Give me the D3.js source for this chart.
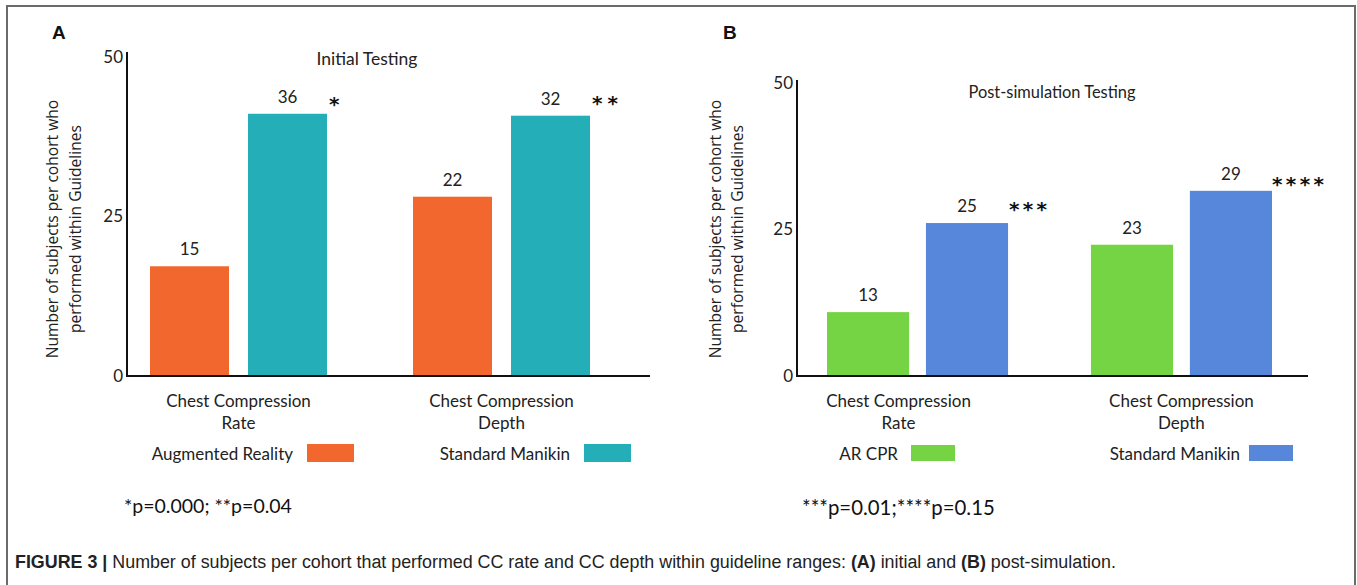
<!DOCTYPE html>
<html><head><meta charset="utf-8">
<script src="https://cdn.jsdelivr.net/npm/d3@7"></script>
<style>
body{margin:0;background:#fff;}
svg{display:block;}
</style></head>
<body>
<svg id="chart" width="1357" height="585"></svg>
<script>
// ---------------- DATA ----------------
const categories = [["Chest Compression", "Rate"], ["Chest Compression", "Depth"]];
const yTicks = [0, 25, 50];

// Panel A – Initial testing
const seriesA = ["Augmented Reality", "Standard Manikin"];
const countsA_AR = [15, 22];          // printed labels
const countsA_SM = [36, 32];
const barsA_AR = [17.2, 28.1];        // bar heights
const barsA_SM = [41.1, 40.8];
const sigA = ["*", "**"];
const titleA = "Initial Testing";
const pTextA = "*p=0.000; **p=0.04";

// Panel B – Post-simulation testing
const seriesB = ["AR CPR", "Standard Manikin"];
const countsB_AR = [13, 23];
const countsB_SM = [25, 29];
const barsB_AR = [10.9, 22.4];
const barsB_SM = [26.1, 31.6];
const sigB = ["***", "****"];
const titleB = "Post-simulation Testing";
const pTextB = "***p=0.01;****p=0.15";

const yLabel = ["Number of subjects per cohort who", "performed within Guidelines"];
const captionBold = "FIGURE 3 | ";
const captionText = "Number of subjects per cohort that performed CC rate and CC depth within guideline ranges: ";

// ---------------- DRAW ----------------
const svg = d3.select("#chart");
const LABEL_FONT = "Lato, 'Open Sans', sans-serif";

// figure frame
svg.append("path")
  .attr("d", "M7,600 L7,6 L1355,6 L1355,600")
  .attr("fill", "none").attr("stroke", "#6b6b6b").attr("stroke-width", 2);

function fitWidth(sel, w) {
  const n = sel.node();
  const cur = n.getComputedTextLength();
  const fs = parseFloat(sel.attr("font-size"));
  sel.attr("font-size", (fs * w / cur).toFixed(2));
}

function panel(cfg) {
  const g = svg.append("g");
  const y = d3.scaleLinear().domain([0, 50]).range([376, cfg.y50]);
  const x0 = d3.scaleBand().domain(d3.range(categories.length))
    .range(cfg.groupRange).paddingInner(cfg.padOuter).paddingOuter(0);
  const x1 = d3.scaleBand().domain(d3.range(2))
    .range([0, x0.bandwidth()]).paddingInner(cfg.padInner).paddingOuter(0);

  // panel letter
  g.append("text").attr("x", cfg.letterX).attr("y", 39)
    .attr("font-family", "'Liberation Sans', Arial, sans-serif").attr("font-weight", "bold")
    .attr("font-size", 19).attr("fill", "#111").text(cfg.letter);

  // title
  g.append("text").attr("x", cfg.titleX).attr("y", cfg.titleY)
    .attr("text-anchor", "middle").attr("dominant-baseline", "central")
    .attr("font-family", LABEL_FONT).attr("font-size", 17).attr("fill", "#222")
    .text(cfg.title).call(s => fitWidth(s, cfg.titleW));

  // y axis label
  const yl = g.append("g");
  yLabel.forEach((t, i) => {
    yl.append("text")
      .attr("transform", `translate(${cfg.yLabelX[i]},229) rotate(-90)`)
      .attr("text-anchor", "middle").attr("dominant-baseline", "central")
      .attr("font-family", "'Open Sans', sans-serif").attr("font-size", 15.6)
      .attr("fill", "#222").text(t);
  });

  // bars
  const seriesVals = [cfg.bars0, cfg.bars1];
  const seriesCounts = [cfg.counts0, cfg.counts1];
  const colors = cfg.colors;
  categories.forEach((c, ci) => {
    [0, 1].forEach(si => {
      const v = seriesVals[si][ci];
      const bx = x0(ci) + x1(si);
      g.append("rect").attr("x", bx).attr("y", y(v))
        .attr("width", x1.bandwidth()).attr("height", y(0) - y(v))
        .attr("fill", colors[si]);
      g.append("text").attr("x", bx + x1.bandwidth() / 2).attr("y", y(v) - 11)
        .attr("text-anchor", "middle").attr("font-family", LABEL_FONT)
        .attr("font-size", 17).attr("fill", "#222").text(seriesCounts[si][ci]);
    });
    // significance stars
    const v1 = seriesVals[1][ci];
    const endX = x0(ci) + x1(1) + x1.bandwidth();
    const st = g.append("text").attr("x", endX + cfg.starDX[ci]).attr("y", y(v1) + cfg.starDY[ci])
      .attr("font-family", "'DejaVu Sans', sans-serif").attr("font-weight", "bold")
      .attr("font-size", 20).attr("fill", "#111").text(cfg.sig[ci]);
    st.attr("textLength", cfg.starW[ci]).attr("lengthAdjust", "spacing");

    // category labels
    categories[ci].forEach((line, li) => {
      g.append("text").attr("x", x0(ci) + x0.bandwidth() / 2 + cfg.catDX[ci])
        .attr("y", 400 + li * 22).attr("text-anchor", "middle")
        .attr("dominant-baseline", "central")
        .attr("font-family", LABEL_FONT).attr("font-size", 17).attr("fill", "#222")
        .text(line);
    });
  });

  // y axis (ticks only as labels)
  const ax = g.append("g").attr("transform", `translate(${cfg.axisX},0)`)
    .call(d3.axisLeft(y).tickValues(yTicks).tickSize(0).tickPadding(4));
  ax.select(".domain").remove();
  ax.selectAll("text").attr("font-family", LABEL_FONT).attr("font-size", 17).attr("fill", "#222");

  g.append("line").attr("x1", cfg.axisX).attr("x2", cfg.axisX)
    .attr("y1", cfg.axisTop).attr("y2", y(0) + 1).attr("stroke", "#111").attr("stroke-width", 2);
  g.append("line").attr("x1", cfg.axisX - 1).attr("x2", cfg.axisRight)
    .attr("y1", y(0)).attr("y2", y(0)).attr("stroke", "#111").attr("stroke-width", 2);

  // legend
  cfg.series.forEach((s, i) => {
    g.append("text").attr("x", cfg.legTextEnd[i]).attr("y", 453)
      .attr("text-anchor", "end").attr("dominant-baseline", "central")
      .attr("font-family", LABEL_FONT).attr("font-size", 17).attr("fill", "#222").text(s);
    g.append("rect").attr("x", cfg.legSwX[i]).attr("y", cfg.legSwY)
      .attr("width", cfg.legSwW).attr("height", cfg.legSwH).attr("fill", colors[i]);
  });

  // p-values
  g.append("text").attr("x", cfg.pX).attr("y", cfg.pY)
    .attr("dominant-baseline", "central")
    .attr("font-family", LABEL_FONT).attr("font-size", 19).attr("fill", "#111")
    .text(cfg.pText).call(s => fitWidth(s, cfg.pW));
}

panel({
  letter: "A", letterX: 52, title: titleA, titleX: 367, titleY: 58, titleW: 101,
  y50: 57, axisX: 127, axisTop: 52, axisRight: 650,
  groupRange: [150, 590], padOuter: 0.327, padInner: 0.194,
  bars0: barsA_AR, bars1: barsA_SM, counts0: countsA_AR, counts1: countsA_SM,
  colors: ["#F2672E", "#24AEB7"], sig: sigA, starDX: [2, 2], starDY: [-3, -6], starW: [11, 26],
  catDX: [0, 0], yLabelX: [52, 75],
  series: seriesA, legTextEnd: [293, 570], legSwX: [307, 584], legSwY: 444, legSwW: 47, legSwH: 18,
  pText: pTextA, pX: 124, pY: 505, pW: 168
});

panel({
  letter: "B", letterX: 723, title: titleB, titleX: 1052, titleY: 91, titleW: 167,
  y50: 83, axisX: 797, axisTop: 80, axisRight: 1308,
  groupRange: [827, 1272], padOuter: 0.314, padInner: 0.17,
  bars0: barsB_AR, bars1: barsB_SM, counts0: countsB_AR, counts1: countsB_SM,
  colors: ["#74D443", "#5787DB"], sig: sigB, starDX: [1, 0], starDY: [-7, 0], starW: [38, 52],
  catDX: [-19, 0], yLabelX: [715, 737],
  series: seriesB, legTextEnd: [898, 1240], legSwX: [911, 1249], legSwY: 445, legSwW: 44, legSwH: 16,
  pText: pTextB, pX: 802, pY: 507, pW: 193
});

// caption
const cap = svg.append("text").attr("x", 15).attr("y", 568)
  .attr("font-family", "'Liberation Sans', Arial, sans-serif").attr("font-size", 16).attr("fill", "#222");
cap.append("tspan").attr("font-weight", "bold").text(captionBold);
cap.append("tspan").text(captionText);
cap.append("tspan").attr("font-weight", "bold").text("(A)");
cap.append("tspan").text(" initial and ");
cap.append("tspan").attr("font-weight", "bold").text("(B)");
cap.append("tspan").text(" post-simulation.");
fitWidth(cap, 1102);
</script>
</body></html>
